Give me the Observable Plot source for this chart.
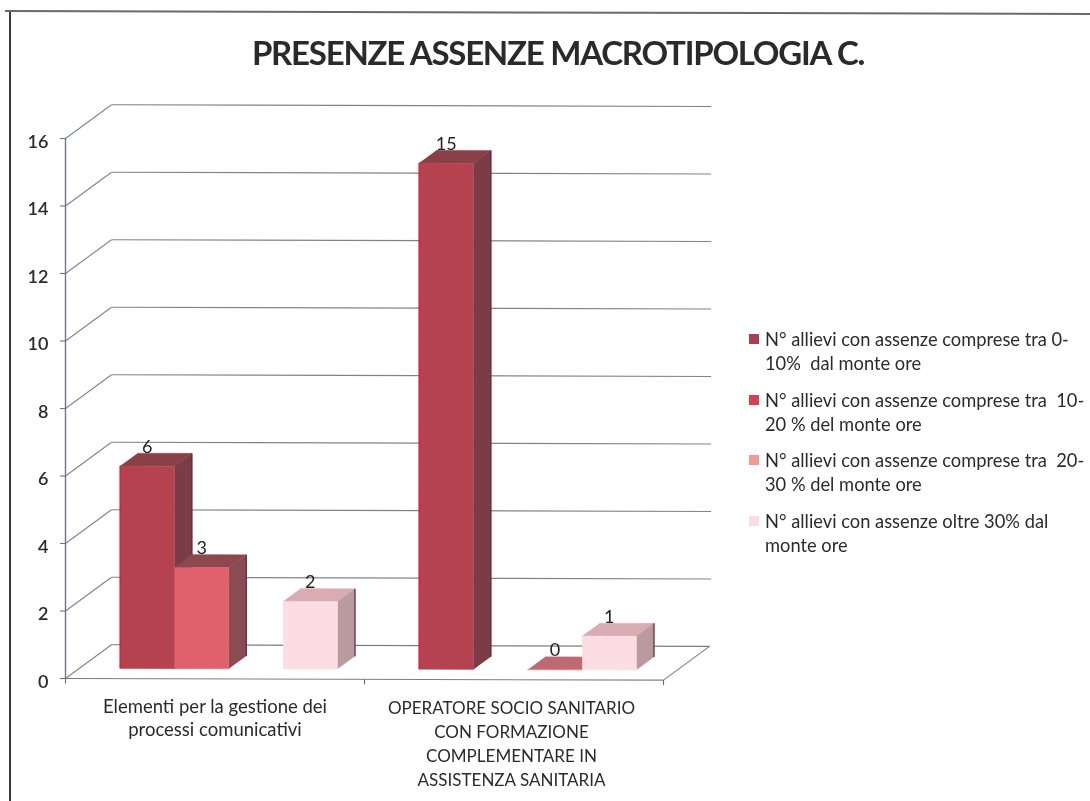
<!DOCTYPE html>
<html>
<head>
<meta charset="utf-8">
<script src="https://cdn.jsdelivr.net/npm/d3@7"></script>
<script src="https://cdn.jsdelivr.net/npm/@observablehq/plot@0.6"></script>
<style>
  html, body { margin: 0; padding: 0; background: #fff; }
  #page { position: relative; width: 1090px; height: 801px; overflow: hidden; font-family: Lato, sans-serif; color: #2b2b2b; }
  #page svg { position: absolute; left: 0; top: 0; filter: blur(0.45px); }
  #title { position: absolute; left: 158px; width: 800px; top: 32px; text-align: center; font-size: 33px; font-weight: 700; letter-spacing: -1.24px; line-height: 40px; color: #2a2a2a; filter: blur(0.35px); }
  .legend { position: absolute; left: 765px; font-size: 18.3px; line-height: 24px; white-space: pre; filter: blur(0.35px); }
  .swatch { position: absolute; left: 749px; width: 10px; height: 10px; }
  #frameLeft { position: absolute; left: 9px; top: 11px; bottom: 0; width: 2px; background: #3a3a3a; }
  #frameTop { position: absolute; left: 5px; top: 10px; width: 1090px; height: 1.5px; background: #6a6a6a; transform-origin: left top; transform: rotate(0.16deg); }
</style>
</head>
<body>
<div id="page">
  <div id="frameLeft"></div>
  <div id="frameTop"></div>
  <div id="title"></div>
</div>
<script>
const titleText = "PRESENZE ASSENZE MACROTIPOLOGIA C.";
const categories = ["Elementi per la gestione dei\nprocessi comunicativi",
  "OPERATORE SOCIO SANITARIO\nCON FORMAZIONE\nCOMPLEMENTARE IN\nASSISTENZA SANITARIA"];
const seriesNames = [
  "N° allievi con assenze comprese tra 0-\n10%  dal monte ore",
  "N° allievi con assenze comprese tra  10-\n20 % del monte ore",
  "N° allievi con assenze comprese tra  20-\n30 % del monte ore",
  "N° allievi con assenze oltre 30% dal\nmonte ore"
];
const values0to10 = [6, 15];
const values10to20 = [3, null];
const values20to30 = [null, 0];
const valuesOver30 = [2, 1];
const yTicks = [0, 2, 4, 6, 8, 10, 12, 14, 16];

const allSeries = [values0to10, values10to20, values20to30, valuesOver30];
const frontColors = ["#b5424f", "#e0606b", "#ee8f8f", "#fbdde3"];
const topColors   = ["#8a4048", "#8e474e", "#bd6a72", "#d9acb2"];
const sideColors  = ["#7a3d45", "#8a4b52", "#a86a70", "#b89a9f"];
const swatchColors = ["#a8404e", "#d8404e", "#f09a94", "#f8dde3"];
const legendY = [[339, 0], [400, 1], [460, 2], [521, 3]];

// oblique projection: bar units along x, value along y, depth z (0 front, 1 back wall)
const depthX = 0.846, tilt = 0.0045;
const P = (u, v, z = 0) => ({x: u + depthX * z, y: v + z - tilt * u});
const barWidth = 1, groupWidth = 5.5, gap = 0.75, zFront = 0.3, zBack = 0.68;

const barMarks = [], labels = [];
categories.forEach((_, c) => {
  allSeries.forEach((vals, s) => {
    const v = vals[c];
    if (v == null) return;
    const u0 = groupWidth * c + gap + s * barWidth, u1 = u0 + barWidth;
    const faces = [], edges = [];
    const face = (kind, fill, pts) => pts.forEach(p => faces.push({id: kind, fill, ...p}));
    face("top", topColors[s], [P(u0, v, zFront), P(u1, v, zFront), P(u1, v, zBack), P(u0, v, zBack)]);
    face("side", sideColors[s], [P(u1, 0, zFront), P(u1, v, zFront), P(u1, v, zBack), P(u1, 0, zBack)]);
    face("front", frontColors[s], [P(u0, 0, zFront), P(u1, 0, zFront), P(u1, v, zFront), P(u0, v, zFront)]);
    if (s === 0) {
      const a = P(u0, 0, zFront), b = P(u0, v, zFront);
      edges.push({x1: a.x, y1: a.y, x2: b.x, y2: b.y, color: "#cf1a33"});
    }
    if (v > 0) {
      const a = P(u1, 0, zBack), b = P(u1, v, zBack);
      edges.push({x1: a.x, y1: a.y, x2: b.x, y2: b.y, color: "#5a2a30"});
    }
    barMarks.push(
      Plot.line(faces, {x: "x", y: "y", z: "id", fill: d => d.fill, stroke: d => d.fill, strokeWidth: 0.4}),
      Plot.link(edges, {x1: "x1", y1: "y1", x2: "x2", y2: "y2", stroke: "color", strokeWidth: 1.2})
    );
    const l = P(u0 + barWidth / 2, v, zFront);
    labels.push({x: l.x, y: l.y, text: String(v)});
  });
});

const xMax = groupWidth * categories.length;
const wallLines = [];
yTicks.forEach(t => {
  const a = {x: 0, y: t}, b = P(0, t, 1), c = P(xMax + 0.03, t, 1);
  wallLines.push({x1: a.x, y1: a.y, x2: b.x, y2: b.y});
  if (t > 0) wallLines.push({x1: b.x, y1: b.y, x2: c.x, y2: c.y});
});
const floorPts = [P(0, 0, 1), P(xMax, 0, 1), P(xMax, 0, 0), {x: 0, y: 0}];
const catTicks = [0, groupWidth, xMax].map(u => {
  const a = P(u, 0, 0);
  return {x1: u, y1: a.y, x2: u, y2: a.y - 0.15};
});

const chart = Plot.plot({
  width: 1090, height: 801,
  marginLeft: 65, marginRight: 427, marginTop: 138, marginBottom: 123,
  style: {background: "transparent", fontFamily: "Lato, sans-serif", overflow: "visible"},
  x: {domain: [0, xMax]},
  y: {domain: [0, 16]},
  marks: [
    Plot.link(wallLines, {x1: "x1", y1: "y1", x2: "x2", y2: "y2", stroke: "#808488", strokeWidth: 1.1}),
    Plot.line(floorPts, {x: "x", y: "y", stroke: "#7c7f82", strokeWidth: 1.1}),
    Plot.link(catTicks, {x1: "x1", y1: "y1", x2: "x2", y2: "y2", stroke: "#6a6c70", strokeWidth: 1.1}),
    Plot.axisY({ticks: yTicks, tickSize: 5, label: null, stroke: "#70748a", strokeWidth: 1.1, text: null}),
    Plot.axisY({ticks: yTicks, tickSize: 0, tickPadding: 17, fontSize: 18, label: null, fill: "#2b2b2b", fontWeight: 600, dy: 3.5}),
    Plot.ruleX([0], {y1: 0, y2: 16, stroke: "#70748a", strokeWidth: 1.4}),
    ...barMarks,
    Plot.axisX({ticks: [groupWidth / 2], tickSize: 0, tickPadding: 18, fontSize: 18.5, label: null,
      lineHeight: 1.25, tickFormat: () => categories[0], fill: "#2b2b2b"}),
    Plot.axisX({ticks: [groupWidth * 1.5], tickSize: 0, tickPadding: 18, fontSize: 17, label: null,
      lineHeight: 1.42, tickFormat: () => categories[1], fill: "#2b2b2b", dx: -2.5}),
    Plot.text(labels, {x: "x", y: "y", text: "text", dy: -19, fontSize: 18, fill: "#222"})
  ]
});
const page = document.getElementById("page");
page.appendChild(chart);
document.getElementById("title").textContent = titleText;
legendY.forEach(([y, s]) => {
  const sw = document.createElement("div");
  sw.className = "swatch"; sw.style.top = (y - 5) + "px"; sw.style.background = swatchColors[s];
  page.appendChild(sw);
  const t = document.createElement("div");
  t.className = "legend"; t.style.top = (y - 12) + "px"; t.textContent = seriesNames[s];
  page.appendChild(t);
});
</script>
</body>
</html>
